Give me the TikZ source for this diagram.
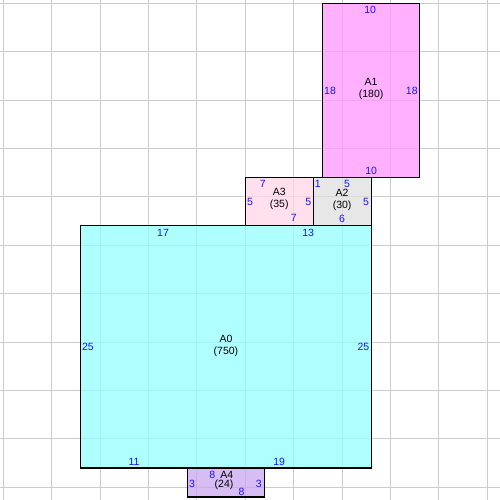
\documentclass[tikz,border=0pt]{standalone}
\usepackage{fontspec}
\setmainfont{Liberation Sans}
\definecolor{gridc}{RGB}{204,204,204}
\definecolor{cA0}{RGB}{150,255,255}
\definecolor{cA1}{RGB}{255,150,255}
\definecolor{cA2}{RGB}{224,224,224}
\definecolor{cA3}{RGB}{255,214,230}
\definecolor{cA4}{RGB}{203,166,241}
\definecolor{dimc}{RGB}{20,20,255}
\begin{document}
\begin{tikzpicture}[x=9.68pt,y=-9.68pt,
  room/.style={draw=black,line width=1.1pt,fill opacity=0.75,draw opacity=1},
  dimlbl/.style={text=dimc,font=\fontsize{10.5}{12}\selectfont,inner sep=0pt},
  namelbl/.style={text=black,font=\fontsize{10.5}{12.5}\selectfont,align=center,inner sep=0pt}]
\useasboundingbox[fill=white] (-0.34,-0.34) rectangle (51.31,51.31);
% grid
\foreach \g in {0,5,...,50}{
  \draw[gridc,line width=1pt] (\g,-0.34) -- (\g,51.31);
  \draw[gridc,line width=1pt] (-0.34,\g) -- (51.31,\g);
}
% rooms
\draw[room,fill=cA0] (8,23) rectangle (38,48);
\draw[room,fill=cA1] (33,0) rectangle (43,18);
\draw[room,fill=cA2] (32,18) rectangle (38,23);
\draw[room,fill=cA3] (25,18) rectangle (32,23);
\draw[room,fill=cA4] (19,48) rectangle (27,51);
% A1
\node[namelbl] (nA1) at (38,8.85) {A1\\(180)};
\node[dimlbl] (a1t) at (37.9,0.69) {10};
\node[dimlbl] (a1b) at (38,17.3) {10};
\node[dimlbl] (a1l) at (33.75,9.06) {18};
\node[dimlbl] (a1r) at (42.2,9.06) {18};
% A2
\node[namelbl] (nA2) at (35,20.3) {A2\\(30)};
\node[dimlbl] (a2t1) at (32.5,18.67) {1};
\node[dimlbl] (a2t2) at (35.5,18.67) {5};
\node[dimlbl] (a2r) at (37.47,20.5) {5};
\node[dimlbl] (a2b) at (35,22.3) {6};
% A3
\node[namelbl] (nA3) at (28.5,20.2) {A3\\(35)};
\node[dimlbl] (a3t) at (26.8,18.67) {7};
\node[dimlbl] (a3b) at (30,22.2) {7};
\node[dimlbl] (a3l) at (25.5,20.5) {5};
\node[dimlbl] (a3r) at (31.5,20.5) {5};
% A0
\node[namelbl] (nA0) at (23,35.4) {A0\\(750)};
\node[dimlbl] (a0t1) at (16.5,23.7) {17};
\node[dimlbl] (a0t2) at (31.5,23.7) {13};
\node[dimlbl] (a0l) at (8.75,35.5) {25};
\node[dimlbl] (a0r) at (37.2,35.5) {25};
\node[dimlbl] (a0b1) at (13.5,47.4) {11};
\node[dimlbl] (a0b2) at (28.5,47.4) {19};
% A4
\node[namelbl] (nA4a) at (23.1,48.7) {A4};
\node[namelbl] (nA4b) at (22.8,49.7) {(24)};
\node[dimlbl] (a4t) at (21.6,48.7) {8};
\node[dimlbl] (a4b) at (24.6,50.5) {8};
\node[dimlbl] (a4l) at (19.5,49.6) {3};
\node[dimlbl] (a4r) at (26.4,49.6) {3};
\end{tikzpicture}
\end{document}
